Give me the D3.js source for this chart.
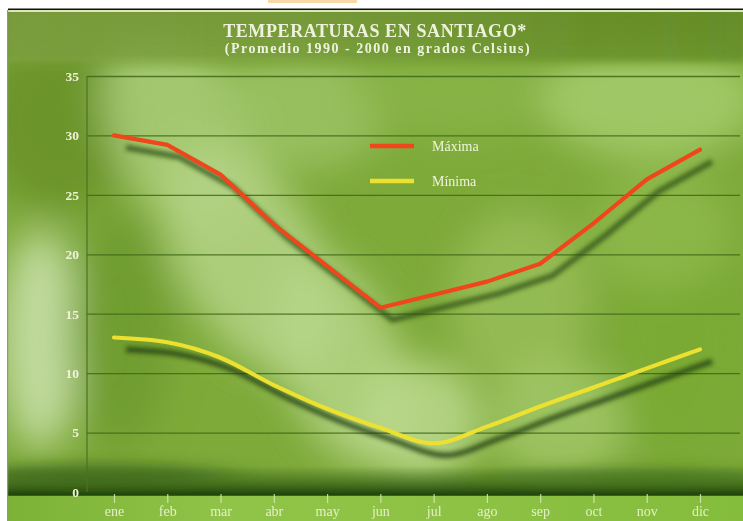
<!DOCTYPE html>
<html><head><meta charset="utf-8">
<script src="https://cdn.jsdelivr.net/npm/d3@7/dist/d3.min.js"></script>
<style>html,body{margin:0;padding:0;background:#fff;}svg{display:block;}</style>
</head><body>
<script>
const months = ["ene","feb","mar","abr","may","jun","jul","ago","sep","oct","nov","dic"];
const maxima = [30.0, 29.2, 26.7, 22.5, 19.0, 15.5, 16.6, 17.7, 19.2, 22.6, 26.3, 28.8];
const minima = [13.0, 12.6, 11.3, 9.0, 7.0, 5.4, 4.1, 5.5, 7.2, 8.8, 10.4, 12.0];
const yTicks = [0, 5, 10, 15, 20, 25, 30, 35];
const seriesNames = ["Máxima", "Mínima"];
const title = "TEMPERATURAS EN SANTIAGO*";
const subtitle = "(Promedio 1990 - 2000 en grados Celsius)";

const W = 743, H = 521;
const svg = d3.select("body").append("svg").attr("width", W).attr("height", H);
const defs = svg.append("defs");

// filters
const blur = defs.append("filter").attr("id","blurBg").attr("x","-50%").attr("y","-50%").attr("width","200%").attr("height","200%");
blur.append("feGaussianBlur").attr("stdDeviation", 18);
const blurS = defs.append("filter").attr("id","blurS").attr("x","-20%").attr("y","-20%").attr("width","140%").attr("height","140%");
blurS.append("feGaussianBlur").attr("stdDeviation", 2.2);
const blurT = defs.append("filter").attr("id","blurT");
blurT.append("feGaussianBlur").attr("stdDeviation", 0.45);
const blurB = defs.append("filter").attr("id","blurB").attr("x","-50%").attr("y","-200%").attr("width","200%").attr("height","500%");
blurB.append("feGaussianBlur").attr("stdDeviation", "30 6");

const clip = defs.append("clipPath").attr("id","panel");
clip.append("rect").attr("x",8).attr("y",10).attr("width",W-8).attr("height",H-10);

// small orange tab at the top
svg.append("rect").attr("x",268).attr("y",0).attr("width",89).attr("height",3).attr("fill","#f8d9a6");
// top black line
svg.append("rect").attr("x",8).attr("y",8.5).attr("width",W-8).attr("height",1.6).attr("fill","#111");

const bg = svg.append("g").attr("clip-path","url(#panel)");
bg.append("rect").attr("x",8).attr("y",10).attr("width",W-8).attr("height",H-10).attr("fill","#7eaa3a");

const blobs = bg.append("g").attr("filter","url(#blurBg)");
const blobData = [
  // cx, cy, rx, ry, color, opacity, rotate
  [60, 120, 80, 90, "#6a9228", 0.9, 0],
  [180, 130, 70, 110, "#a9cc78", 0.85, -25],
  [300, 110, 90, 60, "#9ec468", 0.8, 0],
  [460, 90, 110, 50, "#8ab448", 0.8, 0],
  [650, 100, 110, 60, "#a6cc6c", 0.85, 0],
  [40, 340, 40, 110, "#c6dfa6", 0.9, 0],
  [120, 330, 50, 120, "#6e9a2c", 0.75, 0],
  [250, 260, 70, 130, "#b4d486", 0.85, -30],
  [340, 360, 60, 110, "#b6d68a", 0.8, -20],
  [420, 420, 60, 60, "#bcd98e", 0.85, 0],
  [520, 300, 70, 90, "#9cc25e", 0.7, 0],
  [560, 420, 70, 60, "#a8cc70", 0.7, 0],
  [680, 350, 70, 120, "#7aaa34", 0.9, 0],
  [660, 230, 70, 60, "#92bc50", 0.7, 0]
];
blobData.forEach(b => {
  blobs.append("ellipse").attr("cx",b[0]).attr("cy",b[1]).attr("rx",b[2]).attr("ry",b[3])
    .attr("fill",b[4]).attr("opacity",b[5])
    .attr("transform",`rotate(${b[6]},${b[0]},${b[1]})`);
});

// top band
const gTop = defs.append("linearGradient").attr("id","gTop").attr("x1",0).attr("y1",0).attr("x2",0).attr("y2",1);
gTop.append("stop").attr("offset","0%").attr("stop-color","#6f8f30").attr("stop-opacity",1);
gTop.append("stop").attr("offset","70%").attr("stop-color","#6f9330").attr("stop-opacity",0.8);
gTop.append("stop").attr("offset","100%").attr("stop-color","#7ea83a").attr("stop-opacity",0);
bg.append("rect").attr("x",8).attr("y",10).attr("width",W-8).attr("height",64).attr("fill","url(#gTop)");
const gTopH = defs.append("linearGradient").attr("id","gTopH").attr("x1",0).attr("y1",0).attr("x2",1).attr("y2",0);
gTopH.append("stop").attr("offset","0%").attr("stop-color","#8aac50").attr("stop-opacity",0.4);
gTopH.append("stop").attr("offset","40%").attr("stop-color","#88ad4c").attr("stop-opacity",0.3);
gTopH.append("stop").attr("offset","80%").attr("stop-color","#5c8a20").attr("stop-opacity",0.35);
gTopH.append("stop").attr("offset","100%").attr("stop-color","#5a8a20").attr("stop-opacity",0.45);
bg.append("rect").attr("x",8).attr("y",10).attr("width",W-8).attr("height",52).attr("fill","url(#gTopH)").attr("filter","url(#blurS)");
bg.append("rect").attr("x",8).attr("y",10).attr("width",W-8).attr("height",2).attr("fill","#d8e8b8");

// dark bottom band
const gDark = defs.append("linearGradient").attr("id","gDark").attr("x1",0).attr("y1",0).attr("x2",0).attr("y2",1);
gDark.append("stop").attr("offset","0%").attr("stop-color","#2f5a12").attr("stop-opacity",0);
gDark.append("stop").attr("offset","55%").attr("stop-color","#2f5a12").attr("stop-opacity",0.6);
gDark.append("stop").attr("offset","100%").attr("stop-color","#1a3a08").attr("stop-opacity",0.95);
bg.append("rect").attr("x",8).attr("y",466).attr("width",W-8).attr("height",29).attr("fill","url(#gDark)");
const bb = bg.append("g").attr("filter","url(#blurB)");
bb.append("ellipse").attr("cx",100).attr("cy",474).attr("rx",130).attr("ry",12).attr("fill","#2e5a14").attr("opacity",0.55);
bb.append("ellipse").attr("cx",630).attr("cy",476).attr("rx",140).attr("ry",10).attr("fill","#3a6a18").attr("opacity",0.45);
// bottom strip
const gBot = defs.append("linearGradient").attr("id","gBot").attr("x1",0).attr("y1",0).attr("x2",1).attr("y2",0);
gBot.append("stop").attr("offset","0%").attr("stop-color","#7cb236");
gBot.append("stop").attr("offset","30%").attr("stop-color","#90c448");
gBot.append("stop").attr("offset","60%").attr("stop-color","#8ec244");
gBot.append("stop").attr("offset","100%").attr("stop-color","#84bc3c");
bg.append("rect").attr("x",8).attr("y",495).attr("width",W-8).attr("height",26).attr("fill","url(#gBot)");
bg.append("rect").attr("x",8).attr("y",494).attr("width",W-8).attr("height",2).attr("fill","#204a0c").attr("opacity",0.8);
// left frame line
svg.append("rect").attr("x",7).attr("y",10).attr("width",1.2).attr("height",H-10).attr("fill","#8a9a80");

// scales
const x = d3.scalePoint().domain(months).range([114, 700]);
const y = d3.scaleLinear().domain([0, 35]).range([492, 76]);

// grid
const grid = svg.append("g").attr("transform","translate(87,0)")
  .call(d3.axisLeft(y).tickValues(yTicks.filter(v=>v>0)).tickSize(-653).tickFormat(""));
grid.select(".domain").remove();
grid.selectAll(".tick line").attr("stroke","#3e6818").attr("stroke-width",1.3).attr("opacity",0.85);

// y axis line
svg.append("line").attr("x1",87).attr("x2",87).attr("y1",y(35)).attr("y2",y(0))
  .attr("stroke","#4a7420").attr("stroke-width",1.2);

// y labels
const yax = svg.append("g").attr("transform","translate(79,0)")
  .call(d3.axisLeft(y).tickValues(yTicks).tickSize(0).tickPadding(0));
yax.select(".domain").remove();
yax.selectAll("text").attr("fill","#eef3d8").attr("font-family","Liberation Serif, DejaVu Serif, serif")
  .attr("font-size",13.5).attr("font-weight","bold").attr("filter","url(#blurT)");

// x axis
const xax = svg.append("g").attr("transform","translate(0,494)")
  .call(d3.axisBottom(x).tickSize(9).tickPadding(3));
xax.select(".domain").remove();
xax.selectAll(".tick line").attr("stroke","#d8eab0").attr("stroke-width",1.2).attr("opacity",0.85);
xax.selectAll("text").attr("fill","#e4efc8").attr("font-family","Liberation Serif, DejaVu Serif, serif")
  .attr("font-size",14).attr("filter","url(#blurT)");

// lines
const lineMax = d3.line().x((d,i)=>x(months[i])).y(d=>y(d)).curve(d3.curveLinear);
const lineMin = d3.line().x((d,i)=>x(months[i])).y(d=>y(d)).curve(d3.curveMonotoneX);

const sh = svg.append("g").attr("transform","translate(12,12)").attr("filter","url(#blurS)");
sh.append("path").attr("d",lineMax(maxima)).attr("fill","none").attr("stroke","#274a10").attr("stroke-width",6).attr("opacity",0.7).attr("stroke-linejoin","round");
sh.append("path").attr("d",lineMin(minima)).attr("fill","none").attr("stroke","#223f0c").attr("stroke-width",6).attr("opacity",0.75).attr("stroke-linejoin","round");

svg.append("path").attr("d",lineMax(maxima)).attr("fill","none").attr("stroke","#f0461c").attr("stroke-width",4.2).attr("stroke-linejoin","round").attr("stroke-linecap","round");
svg.append("path").attr("d",lineMin(minima)).attr("fill","none").attr("stroke","#ece030").attr("stroke-width",4.2).attr("stroke-linejoin","round").attr("stroke-linecap","round");

// legend
const legColors = ["#f0461c", "#ece030"];
const leg = svg.append("g");
seriesNames.forEach((n,i)=>{
  const ly = 146 + i*35;
  leg.append("line").attr("x1",380).attr("x2",423).attr("y1",ly+19).attr("y2",ly+19)
    .attr("stroke","#264810").attr("stroke-width",7).attr("opacity",0.7).attr("filter","url(#blurS)");
  leg.append("line").attr("x1",370).attr("x2",414).attr("y1",ly).attr("y2",ly)
    .attr("stroke",legColors[i]).attr("stroke-width",4.5);
  leg.append("text").attr("x",432).attr("y",ly+4.5).text(n)
    .attr("fill","#eef3dc").attr("font-family","Liberation Serif, DejaVu Serif, serif")
    .attr("font-size",14).attr("filter","url(#blurT)");
});

// titles
svg.append("text").attr("x",375).attr("y",37).attr("text-anchor","middle").text(title)
  .attr("fill","#eef2dc").attr("font-family","Liberation Serif, DejaVu Serif, serif")
  .attr("font-size",18).attr("font-weight","bold").attr("letter-spacing",0.6).attr("filter","url(#blurT)");
svg.append("text").attr("x",378).attr("y",53).attr("text-anchor","middle").text(subtitle)
  .attr("fill","#eef2dc").attr("font-family","Liberation Serif, DejaVu Serif, serif")
  .attr("font-size",14).attr("font-weight","bold").attr("letter-spacing",1.5).attr("filter","url(#blurT)");
</script>
</body></html>
